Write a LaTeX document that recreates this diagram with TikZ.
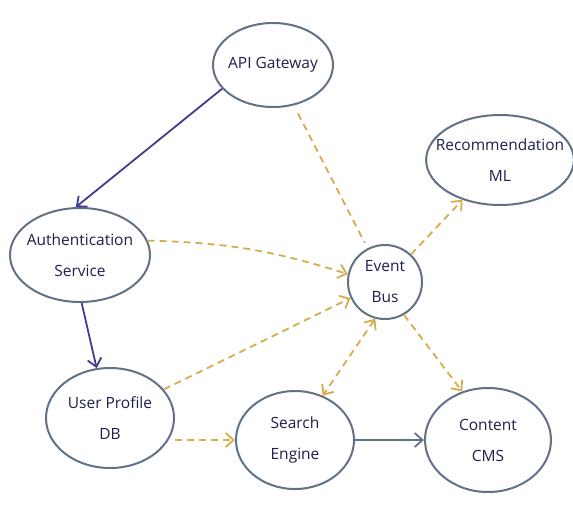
\documentclass[tikz,border=0pt]{standalone}
\usepackage{fontspec}
\setmainfont{Open Sans}
\usetikzlibrary{shapes.geometric,arrows.meta}
\definecolor{rim}{HTML}{627286}
\definecolor{ink}{HTML}{1F1F4D}
\definecolor{indigo}{HTML}{3F3D8F}
\definecolor{gold}{HTML}{D4AE4E}
\begin{document}
\begin{tikzpicture}[x=1pt,y=-1pt,
  svc/.style={shape=ellipse,draw=rim,line width=2pt,text=ink,align=center,
    inner xsep=-12pt,inner ysep=0pt,font=\fontsize{15.5}{31}\selectfont},
  sync/.style={draw=indigo,line width=1.8pt},
  evt/.style={draw=gold,line width=1.8pt,dash pattern=on 7pt off 5pt},
  call/.style={draw=rim,line width=2pt},
  >={Straight Barb[length=8pt,width=14pt,line width=1.8pt]}]

\useasboundingbox[fill=white] (0,0) rectangle (573,523);

%draw service nodes
\node [svc, minimum width=120, minimum height=84] at (273,65) (api) {API Gateway};
\node [svc, minimum width=128, minimum height=90] at (500,160) (rec) {Recommendation\\ML};
\node [svc, minimum width=140, minimum height=94] at (80,255) (auth) {Authentication\\Service};
\node [svc, minimum width=74, minimum height=74] at (385,282) (bus) {Event\\Bus};
\node [svc, minimum width=128, minimum height=100] at (110,418) (upd) {User Profile\\DB};
\node [svc, minimum width=118, minimum height=98] at (295,440) (sea) {Search\\Engine};
\node [svc, minimum width=126, minimum height=104] at (488,440) (cms) {Content\\CMS};

%solid calls
\draw [sync,->] (api.205) -- (auth.95);
\draw [sync,->] (auth.272) -- (upd.105);
\draw [call,->] (sea) -- (cms);

%dashed events to and from the bus
\draw [evt,shorten <=9pt,shorten >=6pt] (api) -- (bus);
\draw [evt,->] (auth.12) to[bend left=8] (bus.168);
\draw [evt,->] (bus) -- (rec);
\draw [evt,->] (upd.28) -- (bus.205);
\draw [evt,->] (upd.east |- sea.west) -- (sea.west);
\draw [evt,<->] (bus.255) -- (sea.58);
\draw [evt,->] (bus.300) -- (cms.118);
\end{tikzpicture}
\end{document}
